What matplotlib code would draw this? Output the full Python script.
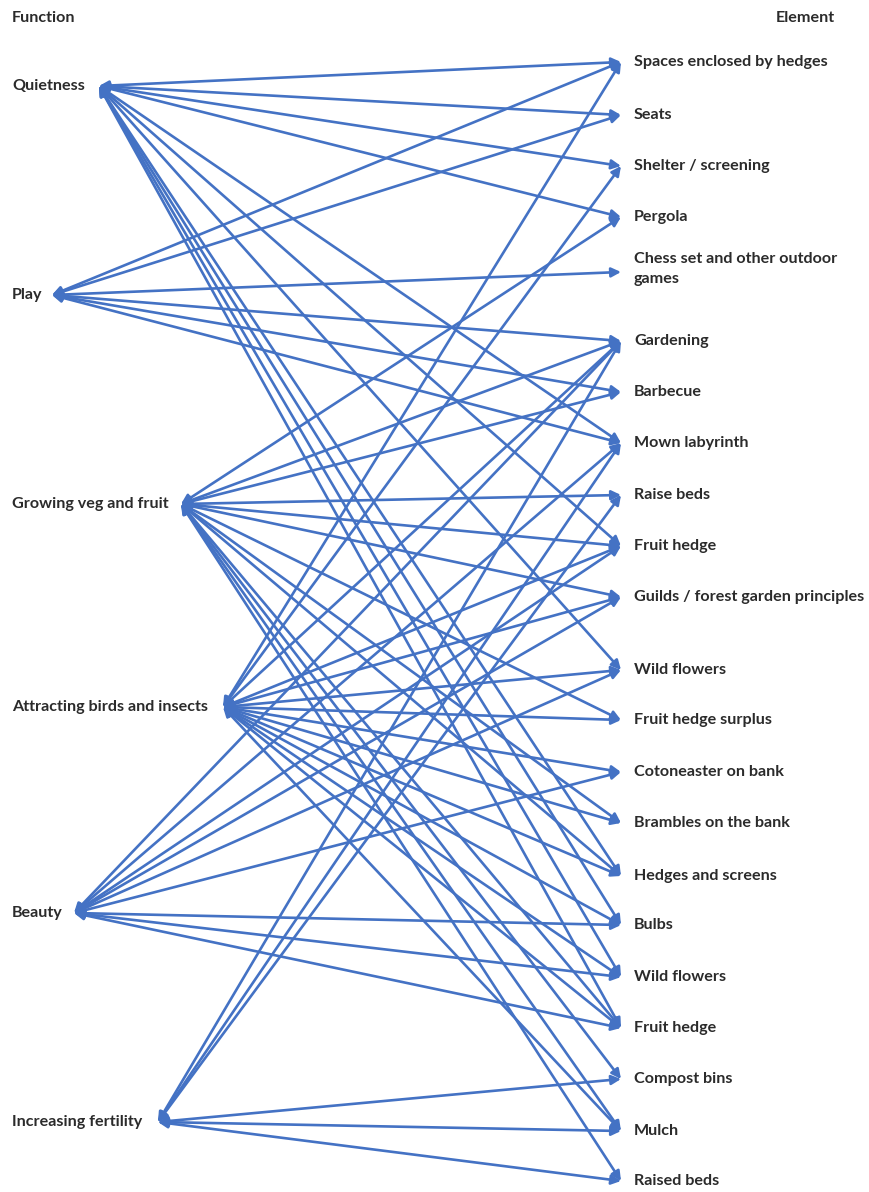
import matplotlib
matplotlib.use("Agg")
import matplotlib.pyplot as plt
from matplotlib.patches import FancyArrowPatch

functions = ["Quietness", "Play", "Growing veg and fruit",
             "Attracting birds and insects", "Beauty", "Increasing fertility"]
elements = ["Spaces enclosed by hedges", "Seats", "Shelter / screening", "Pergola",
            "Chess set and other outdoor\ngames", "Gardening", "Barbecue", "Mown labyrinth",
            "Raise beds", "Fruit hedge", "Guilds / forest garden principles",
            "Wild flowers", "Fruit hedge surplus", "Cotoneaster on bank",
            "Brambles on the bank", "Hedges and screens", "Bulbs", "Wild flowers",
            "Fruit hedge", "Compost bins", "Mulch", "Raised beds"]

# links: element indices connected to each function
links_quietness = [0, 1, 2, 3, 7, 9, 11, 15, 16, 17, 18]
links_play = [0, 1, 4, 5, 6, 7]
links_growing = [3, 5, 6, 8, 9, 10, 12, 14, 15, 18, 19, 20, 21]
links_attracting = [0, 2, 5, 9, 10, 11, 12, 13, 14, 15, 16, 17, 18, 20]
links_beauty = [5, 7, 9, 10, 11, 13, 16, 17, 18]
links_fertility = [5, 7, 8, 19, 20, 21]
links = [links_quietness, links_play, links_growing, links_attracting,
         links_beauty, links_fertility]

# layout (pixel coordinates)
W, H = 870, 1192
func_y = [86, 295, 504, 707, 913, 1122]
func_tip_x = [99, 52, 181, 223, 74, 158]
elem_y = [62, 115, 166, 217, 272, 341, 392, 443, 495, 546, 597, 670, 720,
          772, 823, 876, 925, 977, 1028, 1079, 1131, 1181]
elem_tip_x = 621
label_x_left = 12
label_x_right = 634

BLUE = "#4472C4"
TXT = "#2b2b2b"
FONT = dict(family=["Lato", "DejaVu Sans"], fontweight="bold", fontsize=11.6, color=TXT)

fig = plt.figure(figsize=(W / 100, H / 100), dpi=100)
ax = fig.add_axes([0, 0, 1, 1])
ax.set_xlim(0, W)
ax.set_ylim(H, 0)
ax.axis("off")

for fi, targets in enumerate(links):
    for ei in targets:
        arr = FancyArrowPatch((func_tip_x[fi], func_y[fi]), (elem_tip_x, elem_y[ei]),
                              arrowstyle="<|-|>", mutation_scale=14,
                              color=BLUE, lw=1.9, shrinkA=0, shrinkB=0)
        ax.add_patch(arr)

ax.text(label_x_left, 18, "Function", va="center", ha="left", **FONT)
ax.text(835, 18, "Element", va="center", ha="right", **FONT)
for name, y in zip(functions, func_y):
    ax.text(label_x_left, y, name, va="center", ha="left", **FONT)
for name, y in zip(elements, elem_y):
    if "\n" in name:
        ax.text(label_x_right, y - 3, name, va="center", ha="left", linespacing=1.5, **FONT)
    else:
        ax.text(label_x_right, y, name, va="center", ha="left", **FONT)

fig.savefig("out.png", dpi=100, facecolor="white")
